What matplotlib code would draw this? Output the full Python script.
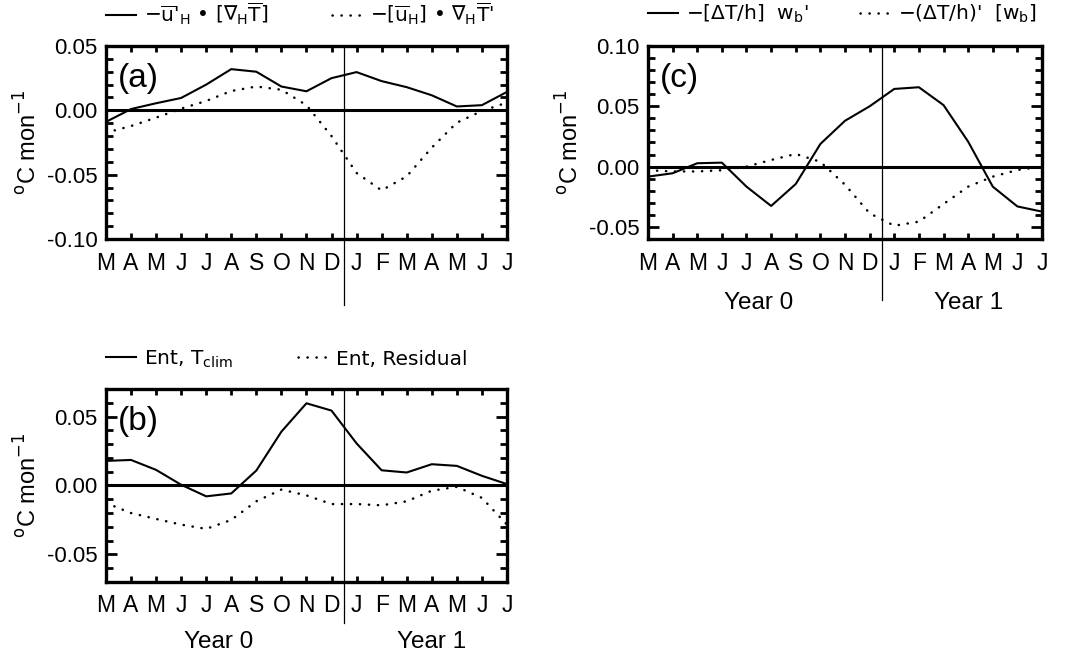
import numpy as np
import matplotlib
matplotlib.use("Agg")
import matplotlib.pyplot as plt
from matplotlib.ticker import MultipleLocator

plt.rcParams['font.family'] = ['Liberation Sans', 'DejaVu Sans']
plt.rcParams['mathtext.fontset'] = 'custom'
plt.rcParams['mathtext.rm'] = 'DejaVu Sans'
plt.rcParams['mathtext.it'] = 'DejaVu Sans'

months = ['M', 'A', 'M', 'J', 'J', 'A', 'S', 'O', 'N', 'D',
          'J', 'F', 'M', 'A', 'M', 'J', 'J']

# (a) horizontal advection terms
adv_anom_u = [-0.009, 0.001, 0.0055, 0.0096, 0.020, 0.032, 0.030, 0.0185, 0.0148,
              0.025, 0.0297, 0.0227, 0.018, 0.0117, 0.003, 0.004, 0.0143]
adv_anom_T = [-0.0174, -0.0122, -0.0057, 0.0013, 0.0073, 0.015, 0.0185, 0.016, 0.004,
              -0.020, -0.0487, -0.0622, -0.0513, -0.029, -0.0096, -0.0005, 0.006]

# (b) entrainment terms
ent_clim = [0.0178, 0.0185, 0.0113, 0.0005, -0.0079, -0.0058, 0.0108, 0.039, 0.0596,
            0.0543, 0.0305, 0.011, 0.0094, 0.0154, 0.0142, 0.007, 0.001]
ent_resid = [-0.0127, -0.020, -0.0243, -0.0284, -0.0315, -0.025, -0.0115, -0.003, -0.0072,
             -0.0135, -0.0135, -0.0144, -0.0115, -0.0038, -0.001, -0.009, -0.0284]

# (c) vertical advection terms
vert_anom_w = [-0.0083, -0.0055, 0.0028, 0.0033, -0.0166, -0.0326, -0.0144, 0.0188, 0.038,
               0.050, 0.0644, 0.0658, 0.051, 0.0207, -0.0166, -0.033, -0.0373]
vert_anom_dT = [-0.003, -0.004, -0.004, -0.003, 0.0, 0.0055, 0.0105, 0.004, -0.015,
                -0.0387, -0.049, -0.0456, -0.031, -0.0166, -0.0083, -0.0028, 0.0]

x = np.arange(len(months))
dotted = (0, (0.1, 3.5))
ylab = r'$^{\rm o}$C mon$^{-1}$'
legfont = {'family': 'DejaVu Sans', 'size': 14.5}

fig = plt.figure(figsize=(10.67, 6.55), dpi=100)


def panel(rect, solid, dots, ylim, yticks, label, names, leg_y, x2, vline_ext, years_y=None):
    ax = fig.add_axes(rect)
    l1, = ax.plot(x, solid, color='k', lw=1.5)
    l2, = ax.plot(x, dots, color='k', lw=1.8, linestyle=dotted, dash_capstyle='round')
    ax.axhline(0, color='k', lw=2.2)
    ax.axvline(9.5, ymin=vline_ext, ymax=1, color='k', lw=0.9, clip_on=False)
    ax.set_xlim(0, 16)
    ax.set_ylim(*ylim)
    ax.set_xticks(x)
    ax.set_xticklabels(months, fontsize=16.5)
    ax.set_yticks(yticks)
    ax.set_yticklabels(['%.2f' % t for t in yticks], fontsize=16)
    ax.yaxis.set_minor_locator(MultipleLocator(0.01))
    ax.tick_params(axis='x', direction='in', length=4, width=2, top=True, pad=9)
    ax.tick_params(axis='y', which='major', direction='in', length=8, width=2, right=True, pad=6)
    ax.tick_params(axis='y', which='minor', direction='in', length=5, width=2, right=True)
    for s in ax.spines.values():
        s.set_linewidth(2.4)
    ax.set_ylabel(ylab, fontsize=17, labelpad=4)
    ax.text(0.03, 0.83, label, transform=ax.transAxes, fontsize=24, va='center', ha='left')
    opts = dict(loc='center left', borderaxespad=0, borderpad=0, frameon=False,
                handlelength=1.5, handletextpad=0.4, prop=legfont)
    leg1 = ax.legend([l1], [names[0]], bbox_to_anchor=(0.0, leg_y), **opts)
    ax.add_artist(leg1)
    ax.legend([l2], [names[1]], bbox_to_anchor=(x2, leg_y), **opts)
    if years_y is not None:
        tr = ax.get_xaxis_transform()
        ax.text(4.5, years_y, 'Year 0', transform=tr, fontsize=17.5, ha='center', va='center')
        ax.text(13, years_y, 'Year 1', transform=tr, fontsize=17.5, ha='center', va='center')
    return ax


panel([0.0993, 0.6351, 0.3758, 0.2947], adv_anom_u, adv_anom_T, (-0.10, 0.05),
      [-0.10, -0.05, 0.0, 0.05], '(a)',
      [r"$-\overline{\rm u}$'$_{\rm H}$ • [$\nabla_{\rm H}\overline{\rm T}$]",
       r"$-[\overline{\rm u}_{\rm H}]$ • $\nabla_{\rm H}\overline{\rm T}$'"],
      1.165, 0.564, -0.342)

panel([0.6073, 0.6351, 0.3693, 0.2947], vert_anom_w, vert_anom_dT, (-0.06, 0.10),
      [-0.05, 0.0, 0.05, 0.10], '(c)',
      [r"$-[\Delta$T/h]  w$_{\rm b}$'",
       r"$-(\Delta$T/h)'  [w$_{\rm b}$]"],
      1.165, 0.538, -0.316, years_y=-0.33)

panel([0.0993, 0.1115, 0.3758, 0.2947], ent_clim, ent_resid, (-0.07, 0.07),
      [-0.05, 0.0, 0.05], '(b)',
      [r'Ent, T$_{\rm clim}$', 'Ent, Residual'],
      1.155, 0.479, -0.212, years_y=-0.31)

fig.savefig('out.png', dpi=100)
